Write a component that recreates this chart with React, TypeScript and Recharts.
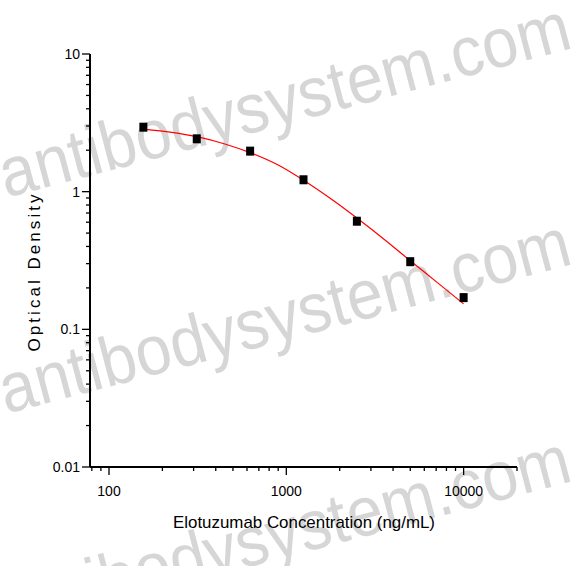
import React from 'react';
import { ComposedChart, XAxis, YAxis, Line, Scatter } from 'recharts';

const concentrations = [156.25, 312.5, 625, 1250, 2500, 5000, 10000];
const odValues = [2.94, 2.42, 1.97, 1.22, 0.61, 0.31, 0.17];

const curveConc = [156.25, 226, 312.5, 450, 625, 900, 1250, 1800, 2500, 3500, 5000, 7000, 10000];
const curveOD = [2.85, 2.7, 2.51, 2.22, 1.92, 1.56, 1.21, 0.88, 0.643, 0.459, 0.315, 0.222, 0.153];

const xMajorTicks = [100, 1000, 10000];
const xMinorTicks = [80, 90, 200, 300, 400, 500, 600, 700, 800, 900, 2000, 3000, 4000, 5000, 6000, 7000, 8000, 9000, 20000];
const yMajorTicks = [0.01, 0.1, 1, 10];
const yMinorTicks = [0.02, 0.03, 0.04, 0.05, 0.06, 0.07, 0.08, 0.09, 0.2, 0.3, 0.4, 0.5, 0.6, 0.7, 0.8, 0.9, 2, 3, 4, 5, 6, 7, 8, 9];

const xTitle = 'Elotuzumab Concentration (ng/mL)';
const yTitle = 'Optical Density';
const watermark = 'antibodysystem.com';

const pointData = concentrations.map((x, i) => ({ x, y: odValues[i] }));
const curveData = curveConc.map((x, i) => ({ x, y: curveOD[i] }));

const FONT = '"Liberation Sans", Arial, sans-serif';

const XTick = (props: any) => {
  const { x, y, payload } = props;
  const major = xMajorTicks.includes(payload.value);
  return (
    <g>
      <line x1={x} x2={x} y1={y} y2={y + (major ? 8 : 4)} stroke="#000" strokeWidth={1.3} />
      {major && (
        <text x={x} y={y + 29} textAnchor="middle" fontFamily={FONT} fontSize={14} fill="#000">
          {payload.value}
        </text>
      )}
    </g>
  );
};

const YTick = (props: any) => {
  const { x, y, payload } = props;
  const major = yMajorTicks.includes(payload.value);
  return (
    <g>
      <line x1={x - (major ? 8 : 4)} x2={x} y1={y} y2={y} stroke="#000" strokeWidth={1.3} />
      {major && (
        <text x={x - 10} y={y + 5} textAnchor="end" fontFamily={FONT} fontSize={14} fill="#000">
          {payload.value}
        </text>
      )}
    </g>
  );
};

const SquareShape = (props: any) => {
  const { cx, cy } = props;
  return <rect x={cx - 4} y={cy - 4.5} width={8} height={9} fill="#000" />;
};

const Watermarks = () => (
  <svg width={585} height={566} style={{ position: 'absolute', left: 0, top: 0 }}>
    {[198, 414, 631].map((by, i) => (
      <text
        key={i}
        x={6}
        y={by}
        transform={`rotate(-14.8 6 ${by})`}
        fontFamily={FONT}
        fontSize={70}
        fill="#d6d6d6"
        textLength={588}
        lengthAdjust="spacingAndGlyphs"
      >
        {watermark}
      </text>
    ))}
  </svg>
);

const Titles = () => (
  <svg width={585} height={566} style={{ position: 'absolute', left: 0, top: 0, pointerEvents: 'none' }}>
    <text
      x={304}
      y={528}
      textAnchor="middle"
      fontFamily={FONT}
      fontSize={17}
      fill="#000"
      textLength={262}
      lengthAdjust="spacingAndGlyphs"
    >
      {xTitle}
    </text>
    <text
      x={0}
      y={0}
      transform="translate(40 273) rotate(-90)"
      textAnchor="middle"
      fontFamily={FONT}
      fontSize={17}
      fill="#000"
      textLength={157}
      lengthAdjust="spacing"
    >
      {yTitle}
    </text>
  </svg>
);

export default function App() {
  return (
    <div style={{ position: 'absolute', left: 0, top: 0, width: 585, height: 566, background: '#fff' }}>
      <Watermarks />
      <div style={{ position: 'absolute', left: 0, top: 0 }}>
        <ComposedChart width={585} height={566} margin={{ top: 54, right: 68, bottom: 0, left: 0 }}>
          <XAxis
            type="number"
            dataKey="x"
            scale="log"
            domain={[78.125, 20000]}
            allowDataOverflow
            ticks={[...xMajorTicks, ...xMinorTicks].sort((a, b) => a - b)}
            interval={0}
            tick={<XTick />}
            tickLine={false}
            tickSize={0}
            tickMargin={0}
            height={99}
            axisLine={{ stroke: '#000', strokeWidth: 2 }}
          />
          <YAxis
            type="number"
            dataKey="y"
            scale="log"
            domain={[0.01, 10]}
            allowDataOverflow
            ticks={[...yMajorTicks, ...yMinorTicks].sort((a, b) => a - b)}
            interval={0}
            tick={<YTick />}
            tickLine={false}
            tickSize={0}
            tickMargin={0}
            width={90}
            axisLine={{ stroke: '#000', strokeWidth: 2 }}
          />
          <Line
            data={curveData}
            dataKey="y"
            type="monotone"
            stroke="#ff0000"
            strokeWidth={1.2}
            dot={false}
            activeDot={false}
            isAnimationActive={false}
          />
          <Scatter data={pointData} dataKey="y" shape={<SquareShape />} isAnimationActive={false} />
        </ComposedChart>
      </div>
      <Titles />
    </div>
  );
}
